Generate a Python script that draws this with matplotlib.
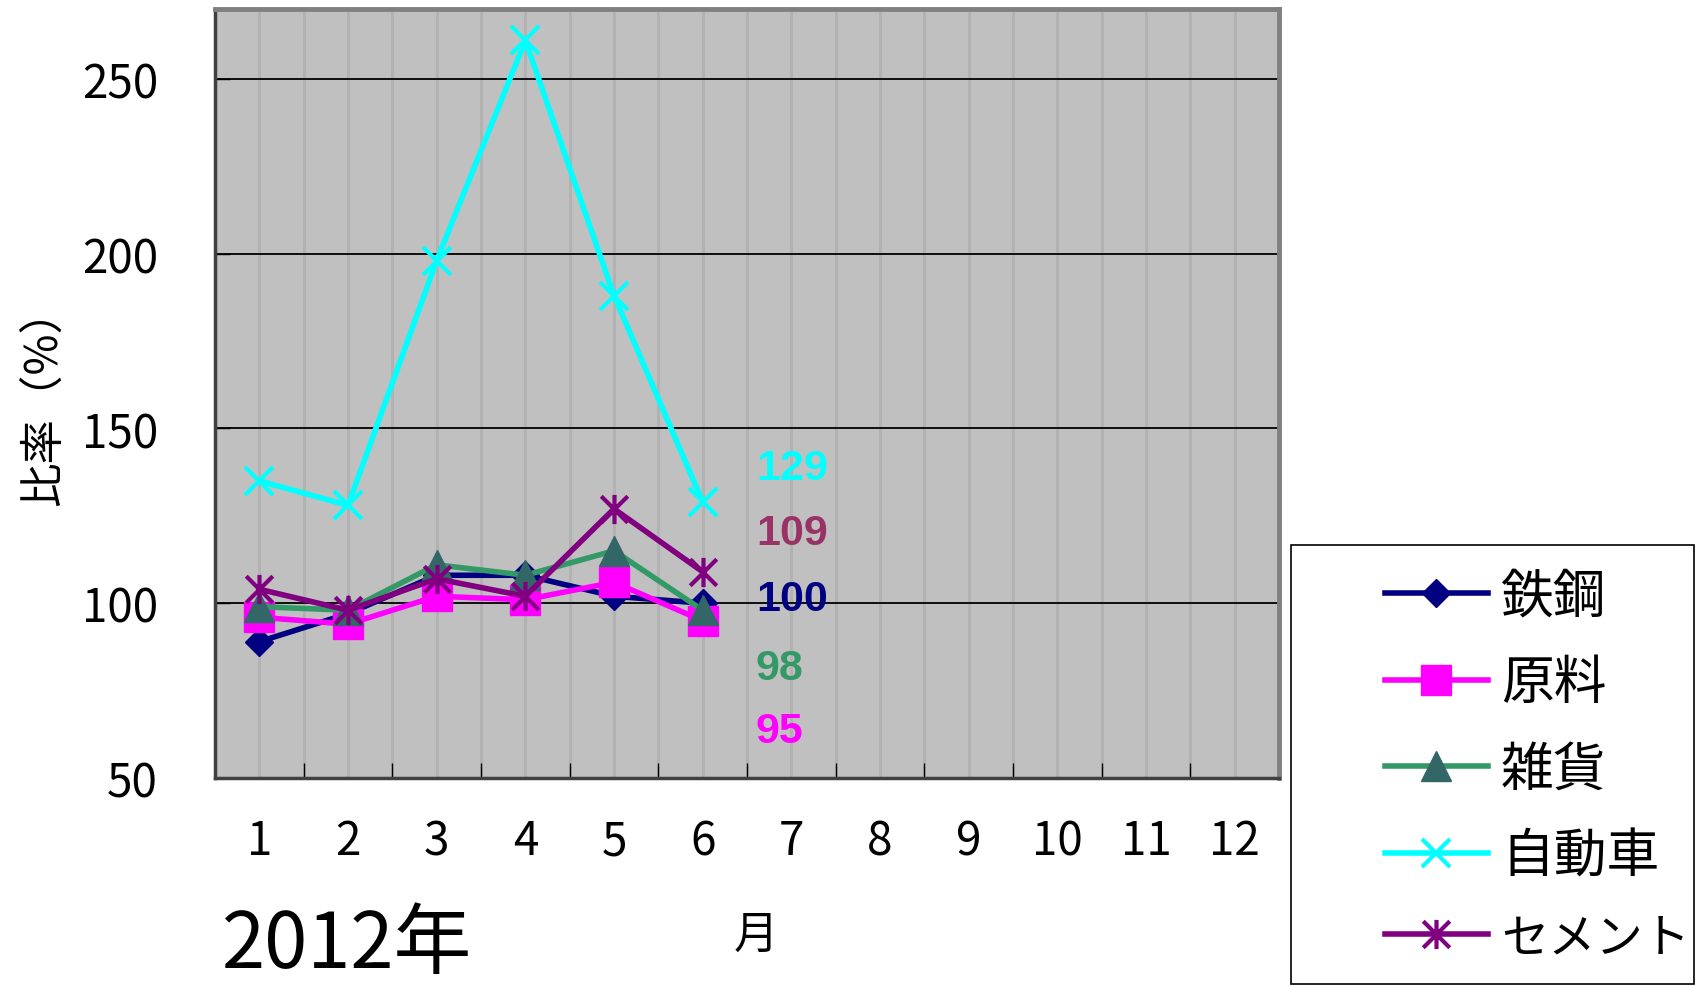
import matplotlib
matplotlib.use("Agg")
import matplotlib.pyplot as plt
import numpy as np
from matplotlib.path import Path
from matplotlib.patches import Rectangle

plt.rcParams['font.family'] = ['Noto Sans CJK JP', 'DejaVu Sans']

months = ['1', '2', '3', '4', '5', '6', '7', '8', '9', '10', '11', '12']
series_names = ['鉄鋼', '原料', '雑貨', '自動車', 'セメント']
tekko = [89, 97, 108, 108, 102, 100]
genryo = [96, 94, 102, 101, 106, 95]
zakka = [99, 98, 111, 108, 115, 98]
jidosha = [135, 128, 198, 261, 188, 129]
cement = [104, 98, 107, 102, 127, 109]
yticks = [50, 100, 150, 200, 250]

# excel style star marker (x plus vertical bar)
star = Path([(-1, -1), (1, 1), (-1, 1), (1, -1), (0, -1.1), (0, 1.1)],
            [Path.MOVETO, Path.LINETO, Path.MOVETO, Path.LINETO, Path.MOVETO, Path.LINETO])

styles = [
    dict(color='#000080', marker='D', ms=14.5, mfc='#000080', mec='#000080', mew=1),
    dict(color='#FF00FF', marker='s', ms=21, mfc='#FF00FF', mec='#FF00FF', mew=1),
    dict(color='#339966', marker='^', ms=21, mfc='#336666', mec='#336666', mew=1),
    dict(color='#00FFFF', marker='x', ms=20, mec='#00FFFF', mew=3),
    dict(color='#800080', marker=star, ms=21, mec='#800080', mew=3),
]
label_colors = ['#000080', '#FF00FF', '#339966', '#00FFFF', '#993366']
# where the free-floating end labels sit (data coords)
label_y = [101.1, 63.4, 81.6, 138.8, 120.2]

fig = plt.figure(figsize=(16.96, 9.87), dpi=100)
ax = fig.add_axes([215 / 1696, 1 - 779 / 987, 1064 / 1696, 769 / 987])
ax.set_facecolor('#C0C0C0')

x = np.arange(len(tekko))
handles = []
for vals, name, st in zip([tekko, genryo, zakka, jidosha, cement], series_names, styles):
    h, = ax.plot(x, vals, lw=4, label=name, clip_on=False, **st)
    handles.append(h)

for vals, c, ly in zip([tekko, genryo, zakka, jidosha, cement], label_colors, label_y):
    ax.text(5.6, ly, str(vals[-1]), color=c, fontsize=31, fontweight='bold',
            family=['Liberation Sans'], va='center', ha='left')

ax.set_xlim(-0.5, 11.5)
ax.set_ylim(50, 270)
ax.set_xticks(np.arange(12))
ax.set_xticklabels(months)
ax.set_xticks(np.arange(-0.5, 12, 1), minor=True)
ax.set_yticks(yticks)
ax.tick_params(axis='x', which='major', length=0, labelsize=33, pad=28)
ax.tick_params(axis='x', which='minor', direction='in', length=11, width=1, color='black')
ax.tick_params(axis='y', direction='in', length=11, width=1, labelsize=33, pad=41)

ax.set_axisbelow(True)
ax.xaxis.grid(True, which='both', color='#B2B2B2', lw=2.2)
ax.yaxis.grid(True, which='major', color='black', lw=1.3)

for s in ['top', 'right']:
    ax.spines[s].set_color('#808080')
    ax.spines[s].set_linewidth(3.5)
for s in ['left', 'bottom']:
    ax.spines[s].set_color('#404040')
    ax.spines[s].set_linewidth(2.5)

fig.text(0.0254, 1 - 397 / 987, '比率（%）', rotation=90, fontsize=32, ha='center', va='center')
fig.text(222 / 1696, 0.001, '2012年', fontsize=56, ha='left', va='bottom')
fig.text(756 / 1696, 1 - 935 / 987, '月', fontsize=32, ha='center', va='center')

# legend box
fig.patches.append(Rectangle((1291 / 1696, 0.002), 1 - 1291 / 1696 - 0.001, 0.4448,
                             transform=fig.transFigure, fill=False, ec='black', lw=1.2))
leg = fig.legend(handles=handles, loc='center left', bbox_to_anchor=(1385 / 1696, 1 - 767 / 987),
                 frameon=False, fontsize=38, handlelength=1.95, handletextpad=0.25,
                 labelspacing=0.6, borderpad=0, borderaxespad=0)
leg.get_texts()[4].set_fontsize(34)

fig.savefig('out.png', dpi=100)
